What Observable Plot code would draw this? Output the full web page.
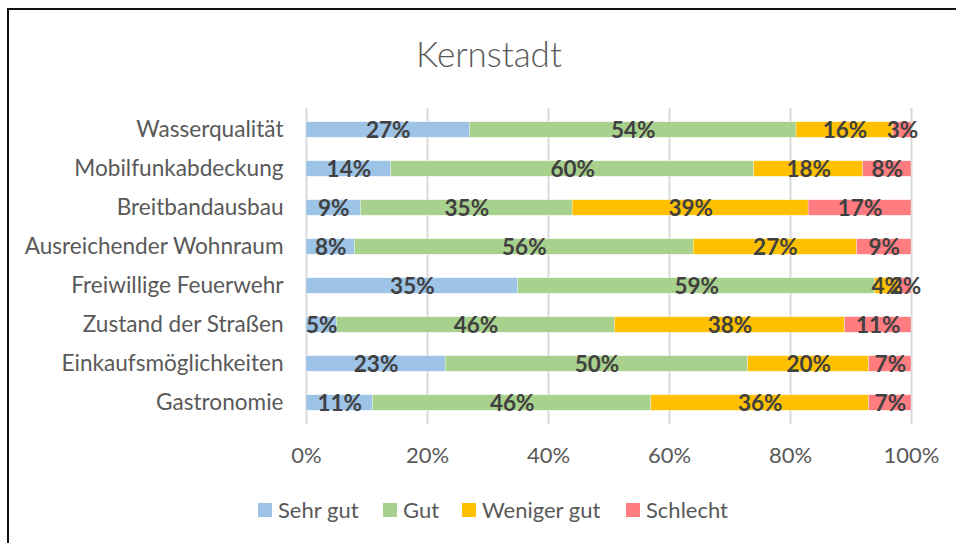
<!DOCTYPE html>
<html>
<head>
<meta charset="utf-8">
<script src="https://cdn.jsdelivr.net/npm/d3@7"></script>
<script src="https://cdn.jsdelivr.net/npm/@observablehq/plot@0.6"></script>
<style>
  html, body { margin: 0; padding: 0; background: #fff; overflow: hidden; }
  body { width: 956px; height: 543px; position: relative; font-family: Lato, "Open Sans", sans-serif; }
  #frame { position: absolute; left: 7px; top: 8px; width: 1000px; height: 600px; border: 2px solid #111; box-sizing: border-box; }
  #title { position: absolute; left: 0; width: 978px; top: 32px; text-align: center; font-size: 35px; font-weight: 300; color: #595959; }
  #chart { position: absolute; left: 0; top: 0; }
  #legend { position: absolute; top: 496px; left: 0; width: 956px; height: 26px; }
  .lg-item { position: absolute; top: 0; display: flex; align-items: center; font-size: 22px; color: #595959; white-space: nowrap; }
  .lg-sw { width: 14px; height: 14px; margin-right: 6px; }
</style>
</head>
<body>
<div id="frame"></div>
<div id="title">Kernstadt</div>
<div id="chart"></div>
<div id="legend"></div>
<script>
const categories = ["Wasserqualität", "Mobilfunkabdeckung", "Breitbandausbau", "Ausreichender Wohnraum", "Freiwillige Feuerwehr", "Zustand der Straßen", "Einkaufsmöglichkeiten", "Gastronomie"];
const series = ["Sehr gut", "Gut", "Weniger gut", "Schlecht"];
const colors = ["#9DC3E6", "#A9D18E", "#FFC000", "#FF7C80"];
const sehrGut    = [27, 14,  9,  8, 35,  5, 23, 11];
const gut        = [54, 60, 35, 56, 59, 46, 50, 46];
const wenigerGut = [16, 18, 39, 27,  4, 38, 20, 36];
const schlecht   = [ 3,  8, 17,  9,  2, 11,  7,  7];
const xTicks = [0, 20, 40, 60, 80, 100];

const seriesValues = [sehrGut, gut, wenigerGut, schlecht];
const data = [];
categories.forEach((c, i) => {
  series.forEach((s, j) => data.push({category: c, series: s, value: seriesValues[j][i]}));
});

const chart = Plot.plot({
  width: 956,
  height: 480,
  marginLeft: 306,
  marginRight: 45,
  marginTop: 108,
  marginBottom: 56,
  style: {fontFamily: "Lato, 'Open Sans', sans-serif", fontSize: "22px", color: "#595959", background: "transparent", overflow: "visible"},
  x: {domain: [0, 100]},
  y: {domain: categories, padding: 0},
  color: {domain: series, range: colors},
  marks: [
    Plot.ruleX(xTicks, {stroke: "#d9d9d9", strokeWidth: 2}),
    Plot.barX(data, Plot.stackX({x: "value", y: "category", fill: "series", z: "series", insetTop: 11.75, insetBottom: 11.75, stroke: "#fff", strokeWidth: 0.5, strokeOpacity: 0.6})),
    Plot.text(data, Plot.stackX({x: "value", y: "category", z: "series", text: d => d.value + "%", fill: "#404040", fontWeight: "bold", fontSize: 22.5, dy: 1})),
    Plot.axisX(xTicks, {tickSize: 0, tickPadding: 23, tickFormat: d => d + "%", fill: "#595959", fontSize: 22, label: null}),
    Plot.axisY({tickSize: 0, tickPadding: 23, fill: "#595959", fontSize: 22.6, label: null})
  ]
});
document.getElementById("chart").appendChild(chart);

const legend = document.getElementById("legend");
const legendX = [258, 383, 462, 626];
series.forEach((s, j) => {
  const item = document.createElement("div");
  item.className = "lg-item";
  item.style.left = legendX[j] + "px";
  const sw = document.createElement("div");
  sw.className = "lg-sw";
  sw.style.background = colors[j];
  const t = document.createElement("span");
  t.textContent = s;
  item.appendChild(sw);
  item.appendChild(t);
  legend.appendChild(item);
});
</script>
</body>
</html>
